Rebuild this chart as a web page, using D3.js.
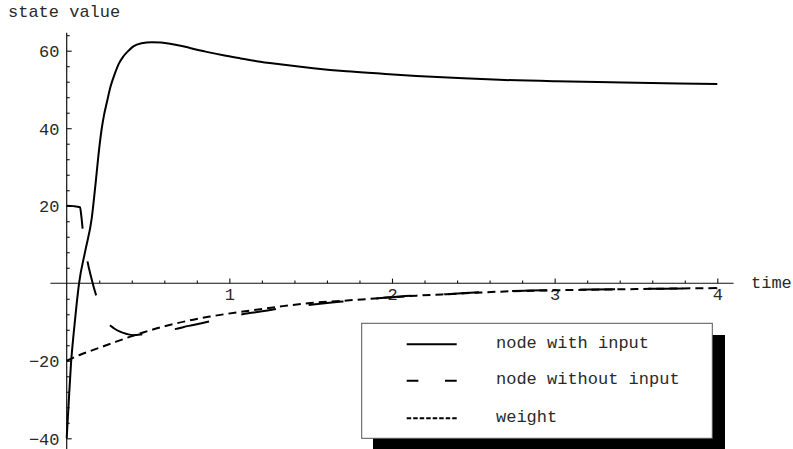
<!DOCTYPE html>
<html>
<head>
<meta charset="utf-8">
<script src="https://cdn.jsdelivr.net/npm/d3@7/dist/d3.min.js"></script>
<style>
  html, body { margin: 0; padding: 0; background: #fff; }
  svg { display: block; }
  text { font-family: "Liberation Mono", "Courier New", "DejaVu Sans Mono", monospace; fill: #2a2a2a; }
</style>
</head>
<body>
<svg id="chart" width="793" height="449"></svg>
<script>
// Time series of the three state variables: [time, value]
const nodeWithInput = [
  [0, -40], [0.01, -32.5], [0.026, -21], [0.045, -12], [0.062, -5], [0.076, 0],
  [0.115, 8.5], [0.154, 16.8], [0.177, 25.5], [0.199, 34.5], [0.215, 39.8],
  [0.23, 43.5], [0.246, 46.5], [0.27, 50.8], [0.297, 54.2], [0.32, 56.6],
  [0.348, 58.5], [0.38, 60], [0.41, 61.1], [0.46, 61.9], [0.523, 62.2],
  [0.58, 62.1], [0.635, 61.8], [0.7, 61.3], [0.758, 60.7], [0.86, 59.7],
  [0.963, 58.8], [1.07, 58.0], [1.168, 57.3], [1.311, 56.5], [1.516, 55.5],
  [1.72, 54.7], [1.926, 54.1], [2.15, 53.5], [2.44, 52.9], [2.66, 52.5],
  [3.01, 52.1], [3.42, 51.8], [4.0, 51.4]
];

const nodeWithoutInput = [
  [0, 20], [0.04, 19.9], [0.082, 19.6], [0.09, 17.3], [0.098, 14.1],
  [0.112, 9.6], [0.127, 5.8], [0.15, 1.6], [0.178, -2.7], [0.2, -5.3],
  [0.225, -7.7], [0.256, -10.3], [0.29, -11.6], [0.328, -12.5], [0.37, -13.1],
  [0.41, -13.4], [0.47, -13.1], [0.55, -12.6], [0.646, -12.0], [0.75, -11],
  [0.861, -10.0], [0.96, -9], [1.066, -8.1], [1.19, -7.3], [1.33, -6.4],
  [1.465, -5.7], [1.6, -5.1], [1.70, -4.7], [1.885, -4.0], [2.05, -3.4],
  [2.3, -2.9], [2.54, -2.3], [2.83, -1.9], [3.25, -1.6], [3.68, -1.4], [4, -1.3]
];

const weight = [
  [0, -20], [0.08, -18.5], [0.164, -17.2], [0.27, -15.6], [0.369, -14.1],
  [0.47, -12.7], [0.574, -11.4], [0.678, -10.3], [0.778, -9.4], [0.88, -8.6],
  [0.984, -7.9], [1.19, -6.7], [1.33, -5.9], [1.5, -5.1], [1.74, -4.4],
  [2.0, -3.6], [2.15, -3.2], [2.4, -2.7], [2.64, -2.2], [2.9, -1.9],
  [3.16, -1.7], [3.5, -1.5], [3.87, -1.3], [4.0, -1.25]
];

const xTicks = [1, 2, 3, 4];
const yTicks = [-40, -20, 20, 40, 60];

const legendLabels = ["node with input", "node without input", "weight"];
const axisTitleX = "time";
const axisTitleY = "state value";

const svg = d3.select("#chart");

const x = d3.scaleLinear().domain([0, 4]).range([66.7, 717.3]);
const y = d3.scaleLinear().domain([-40, 60]).range([438.3, 50.7]);

// Axis extents (a little beyond the data range)
const xExtent = [-0.1, 4.1];
const yExtent = [-43, 64.6];

const xMinor = d3.range(0.2, 4.01, 0.2).filter(v => Math.abs(v - Math.round(v)) > 1e-6);
const yMinor = d3.range(-40, 64.1, 4).filter(v => v % 20 !== 0);

// Axis lines
svg.append("line")
  .attr("x1", x(xExtent[0])).attr("x2", x(xExtent[1]))
  .attr("y1", y(0)).attr("y2", y(0))
  .attr("stroke", "#111").attr("stroke-width", 1.2);
svg.append("line")
  .attr("x1", x(0)).attr("x2", x(0))
  .attr("y1", y(yExtent[1])).attr("y2", y(yExtent[0]))
  .attr("stroke", "#111").attr("stroke-width", 1.2);

// X axis: ticks pointing up, labels below
const gx = svg.append("g").attr("transform", `translate(0,${y(0)})`);
gx.call(d3.axisBottom(x).tickValues(xTicks).tickSizeInner(-4.7).tickSizeOuter(0).tickPadding(4.7)
  .tickFormat(d3.format("d")));
const gxm = svg.append("g").attr("transform", `translate(0,${y(0)})`);
gxm.call(d3.axisBottom(x).tickValues(xMinor).tickSizeInner(-2.7).tickSizeOuter(0).tickFormat(""));

// Y axis: ticks pointing right, labels on the left
const gy = svg.append("g").attr("transform", `translate(${x(0)},0)`);
gy.call(d3.axisLeft(y).tickValues(yTicks).tickSizeInner(-5).tickSizeOuter(0).tickPadding(7.2)
  .tickFormat(d3.format("d")));
const gym = svg.append("g").attr("transform", `translate(${x(0)},0)`);
gym.call(d3.axisLeft(y).tickValues(yMinor).tickSizeInner(-3).tickSizeOuter(0).tickFormat(""));

svg.selectAll(".domain").remove();
svg.selectAll(".tick line").attr("stroke", "#111").attr("stroke-width", 1.1);
svg.selectAll(".tick text")
  .attr("font-family", "Liberation Mono, Courier New, monospace")
  .attr("font-size", 17).attr("fill", "#2a2a2a");
gy.selectAll(".tick text").attr("dy", 6);

// Axis titles
svg.append("text").attr("x", 8).attr("y", 17.3).attr("font-size", 17).text(axisTitleY);
svg.append("text").attr("x", 751).attr("y", 288).attr("font-size", 17).text(axisTitleX);

// Curves
const line = d3.line().x(d => x(d[0])).y(d => y(d[1])).curve(d3.curveMonotoneX);

const series = [
  { data: nodeWithInput, dash: null },
  { data: nodeWithoutInput, dash: "35,33" },
  { data: weight, dash: "8,5" }
];

svg.append("g").selectAll("path").data(series).join("path")
  .attr("d", d => line(d.data))
  .attr("fill", "none")
  .attr("stroke", "#000")
  .attr("stroke-width", 2)
  .attr("stroke-dasharray", d => d.dash);

// Legend with drop shadow
const lg = svg.append("g");
lg.append("rect").attr("x", 373).attr("y", 335).attr("width", 352).attr("height", 120).attr("fill", "#000");
lg.append("rect").attr("x", 361.7).attr("y", 323.3).attr("width", 350.6).attr("height", 115)
  .attr("fill", "#fff").attr("stroke", "#555").attr("stroke-width", 1);

const legendDash = [null, "11.7,26.6", "4.5,2"];
const legendY = [344.3, 380.7, 418.3];
legendLabels.forEach((lab, i) => {
  lg.append("line")
    .attr("x1", 406.7).attr("x2", 456.7)
    .attr("y1", legendY[i]).attr("y2", legendY[i])
    .attr("stroke", "#000").attr("stroke-width", 2)
    .attr("stroke-dasharray", legendDash[i]);
  lg.append("text").attr("x", 496).attr("y", legendY[i] + 3.3)
    .attr("font-size", 17).text(lab);
});
</script>
</body>
</html>
